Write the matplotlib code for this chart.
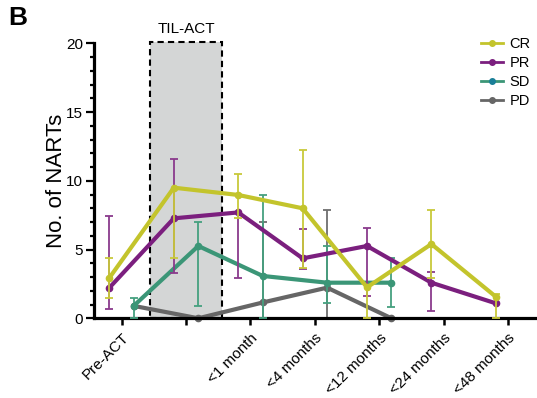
import numpy as np
import matplotlib
matplotlib.use("Agg")
import matplotlib.pyplot as plt
from matplotlib.lines import Line2D
from matplotlib.patches import Rectangle
from matplotlib.ticker import MultipleLocator

plt.rcParams['font.family'] = ['Liberation Sans', 'DejaVu Sans']

# Time points (second slot is the TIL-ACT infusion window, unlabeled)
timepoints = ["Pre-ACT", "", "<1 month", "<4 months", "<12 months", "<24 months", "<48 months"]

# Response groups: centre value and lower / upper whisker ends
cr_mean = [2.95, 9.5, 8.97, 8.0, 2.25, 5.4, 1.57]
cr_low = [1.48, 4.36, 7.32, 3.64, 0.0, 2.9, 0.0]
cr_high = [4.36, 9.5, 10.5, 12.24, 2.25, 7.88, 1.77]

pr_mean = [2.23, 7.27, 7.7, 4.36, 5.26, 2.59, 1.09]
pr_low = [0.65, 3.27, 2.95, 3.56, 1.65, 0.55, 1.09]
pr_high = [7.44, 11.56, 7.7, 6.47, 6.55, 3.35, 1.09]

sd_mean = [0.92, 5.26, 3.08, 2.59, 2.59]
sd_low = [0.0, 0.9, 0.0, 1.14, 0.85]
sd_high = [1.45, 7.0, 8.97, 5.26, 4.36]

pd_mean = [0.9, 0.0, 1.15, 2.23, 0.0]
pd_low = [0.9, 0.0, 0.0, 0.0, 0.0]
pd_high = [0.9, 0.0, 7.0, 7.88, 0.0]

groups = ["CR", "PR", "SD", "PD"]
line_colors = {"CR": "#c3c42c", "PR": "#7b1f7e", "SD": "#3b9677", "PD": "#666666"}
bar_colors = {"CR": "#c8c93a", "PR": "#8a3a8c", "SD": "#45a07f", "PD": "#6e6e6e"}
legend_marker = {"CR": "#c3c42c", "PR": "#7b1f7e", "SD": "#1a7f98", "PD": "#666666"}
offsets = {"CR": -0.19, "PR": -0.19, "SD": 0.19, "PD": 0.19}
series = {
    "CR": (cr_mean, cr_low, cr_high),
    "PR": (pr_mean, pr_low, pr_high),
    "SD": (sd_mean, sd_low, sd_high),
    "PD": (pd_mean, pd_low, pd_high),
}
layer = {"PD": 1, "SD": 3, "PR": 5, "CR": 7}

fig = plt.figure(figsize=(5.37, 3.98), dpi=100)
ax = fig.add_axes([94 / 537, 79.7 / 398, 443 / 537, 275 / 398])

# TIL-ACT window
ax.add_patch(Rectangle((0.44, 0), 1.12, 20.1, facecolor="#d4d6d6", edgecolor="black",
                       linewidth=1.5, linestyle=(0, (3, 2)), zorder=0.5, clip_on=False))
ax.text(1.0, 20.55, "TIL-ACT", ha="center", va="bottom", fontsize=11)


def whiskers(x, mean, ends, color, z):
    x = np.asarray(x, float)
    mean = np.asarray(mean, float)
    ends = np.asarray(ends, float)
    m = np.abs(ends - mean) > 1e-9
    ax.vlines(x[m], mean[m], ends[m], color=color, linewidth=1.3, zorder=z)
    ax.plot(x[m], ends[m], ls="none", marker="_", ms=6, mew=1.3, color=color,
            zorder=z, clip_on=False)


for g in ["PD", "SD", "PR", "CR"]:
    mean, low, high = series[g]
    x = np.arange(len(mean)) + offsets[g]
    z = layer[g]
    whiskers(x, mean, low, bar_colors[g], z)
    whiskers(x, mean, high, bar_colors[g], z)
    ax.plot(x, mean, color=line_colors[g], linewidth=3, marker="o", ms=4.5,
            zorder=z + 1, clip_on=False, solid_joinstyle="miter")

ax.set_xlim(-0.43, 6.45)
ax.set_ylim(0, 20)
ax.set_xticks(np.arange(len(timepoints)))
ax.set_xticklabels(timepoints, rotation=45, ha="right", rotation_mode="anchor", fontsize=11)
ax.yaxis.set_major_locator(MultipleLocator(5))
ax.yaxis.set_minor_locator(MultipleLocator(1))
ax.tick_params(axis="y", which="major", length=6, width=1.6, labelsize=11, pad=2)
ax.tick_params(axis="y", which="minor", length=3, width=1.6)
ax.tick_params(axis="x", which="major", length=5, width=1.8, pad=4)
for s in ["top", "right"]:
    ax.spines[s].set_visible(False)
for s in ["left", "bottom"]:
    ax.spines[s].set_linewidth(2.3)
ax.set_ylabel("No. of NARTs", fontsize=16, labelpad=-1)

handles = [Line2D([], [], color=line_colors[g], lw=2, marker="o", ms=4,
                  markerfacecolor=legend_marker[g], markeredgecolor=legend_marker[g])
           for g in groups]
fig.legend(handles, groups, loc="upper left", bbox_to_anchor=(481 / 537, 1 - 37 / 398),
           frameon=False, fontsize=10.5, handlelength=1.5, handletextpad=0.45,
           labelspacing=0.35, borderpad=0, borderaxespad=0)

fig.text(8 / 537, 1 - 6 / 398, "B", fontsize=19, fontweight="bold", ha="left", va="top")

fig.savefig("out.png", dpi=100)
